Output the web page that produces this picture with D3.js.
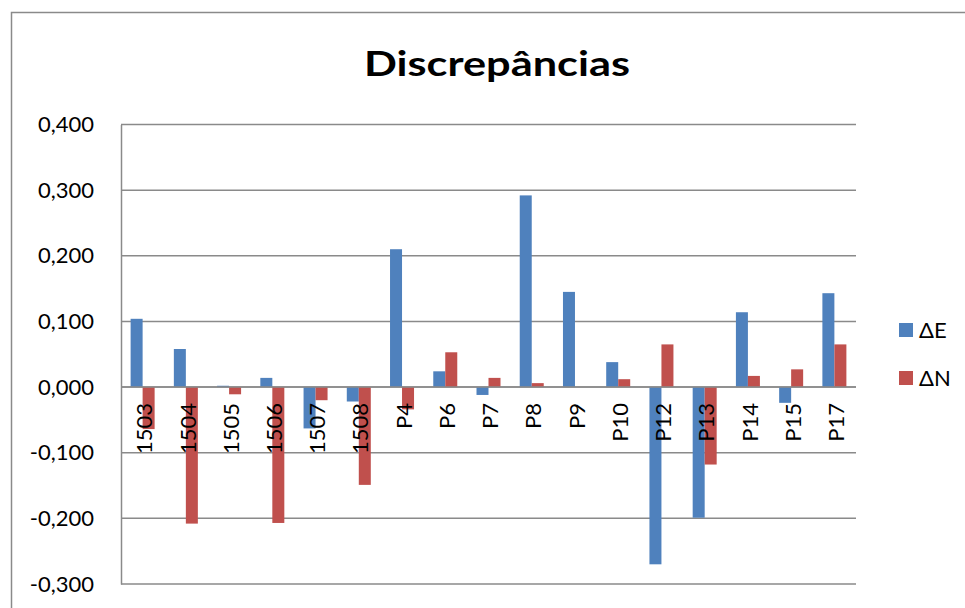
<!DOCTYPE html>
<html>
<head>
<meta charset="utf-8">
<script src="https://cdn.jsdelivr.net/npm/d3@7"></script>
<style>
  html, body { margin: 0; padding: 0; background: #fff; }
  svg { display: block; font-family: Lato, "Open Sans", sans-serif; }
</style>
</head>
<body>
<svg id="chart" width="965" height="608"></svg>
<script>
const title = "Discrepâncias";
const categories = ["1503","1504","1505","1506","1507","1508","P4","P6","P7","P8","P9","P10","P12","P13","P14","P15","P17"];
const seriesNames = ["ΔE", "ΔN"];
const deltaE = [0.104, 0.058, 0.002, 0.014, -0.063, -0.022, 0.210, 0.024, -0.012, 0.292, 0.145, 0.038, -0.270, -0.199, 0.114, -0.024, 0.143];
const deltaN = [-0.064, -0.208, -0.011, -0.207, -0.020, -0.149, -0.034, 0.053, 0.014, 0.006, 0.000, 0.012, 0.065, -0.118, 0.017, 0.027, 0.065];
const yTicks = [-0.3, -0.2, -0.1, 0, 0.1, 0.2, 0.3, 0.4];
const colors = ["#4F81BD", "#C0504D"];

const svg = d3.select("#chart");
const W = 965, H = 608;
const plot = { left: 121, right: 856, top: 124.5, bottom: 584 };

svg.append("rect").attr("width", W).attr("height", H).attr("fill", "#fff");
// chart area border
svg.append("rect").attr("x", 11.5).attr("y", 12.5).attr("width", W + 20).attr("height", H + 20)
  .attr("fill", "none").attr("stroke", "#8a8a8a").attr("stroke-width", 1.5);

const x = d3.scaleBand().domain(categories).range([plot.left, plot.right]).paddingInner(0).paddingOuter(0);
const y = d3.scaleLinear().domain([-0.3, 0.4]).range([plot.bottom, plot.top]);

// gridlines
const grid = svg.append("g").attr("class", "grid");
grid.selectAll("line").data(yTicks).join("line")
  .attr("x1", plot.left).attr("x2", plot.right)
  .attr("y1", d => y(d)).attr("y2", d => y(d))
  .attr("stroke", "#8a8a8a").attr("stroke-width", 1.5);

// y axis
const yAxis = d3.axisLeft(y).tickValues(yTicks).tickSize(0).tickPadding(0)
  .tickFormat(d => d3.format(".3f")(d).replace(".", ",").replace("−", "-"));
const ga = svg.append("g").attr("transform", `translate(${plot.left},0)`).call(yAxis);
ga.select(".domain").attr("stroke", "#8a8a8a").attr("stroke-width", 1.5);
ga.selectAll("text").attr("x", -27).attr("font-size", 22).attr("fill", "#000")
  .attr("font-family", "Lato, 'Open Sans', sans-serif");

// bars
const rows = categories.map((c, i) => ({ c, vals: [deltaE[i], deltaN[i]] }));
const barW = 12;
const gBars = svg.append("g");
rows.forEach(r => {
  r.vals.forEach((v, j) => {
    const bx = x(r.c) + (x.bandwidth() - 2 * barW) / 2 + j * barW;
    gBars.append("rect")
      .attr("x", bx).attr("width", barW)
      .attr("y", Math.min(y(v), y(0))).attr("height", Math.abs(y(v) - y(0)))
      .attr("fill", colors[j]);
  });
});

// zero line on top of bars
svg.append("line").attr("x1", plot.left).attr("x2", plot.right)
  .attr("y1", y(0)).attr("y2", y(0)).attr("stroke", "#8a8a8a").attr("stroke-width", 1.5);

// category labels (rotated)
const xAxis = d3.axisBottom(x).tickSize(0);
const gx = svg.append("g").attr("transform", `translate(0,${y(0)})`).call(xAxis);
gx.select(".domain").remove();
gx.selectAll(".tick text")
  .attr("font-size", 22).attr("fill", "#000")
  .attr("font-family", "Lato, 'Open Sans', sans-serif")
  .attr("text-anchor", "end")
  .attr("transform", "translate(2,16) rotate(-90)")
  .attr("x", 0).attr("y", 0).attr("dy", "0.35em");

// title
svg.append("text").attr("x", 497).attr("y", 76).attr("text-anchor", "middle")
  .attr("font-size", 34).attr("font-weight", "bold").attr("fill", "#000")
  .attr("textLength", 266).attr("lengthAdjust", "spacingAndGlyphs")
  .text(title);

// legend
const leg = svg.append("g");
seriesNames.forEach((s, i) => {
  const cy = 330 + i * 48;
  leg.append("rect").attr("x", 899).attr("y", cy - 7).attr("width", 14).attr("height", 14).attr("fill", colors[i]);
  leg.append("text").attr("x", 919).attr("y", cy).attr("dy", "0.35em")
    .attr("font-size", 22).attr("fill", "#000").text(s);
});
</script>
</body>
</html>
